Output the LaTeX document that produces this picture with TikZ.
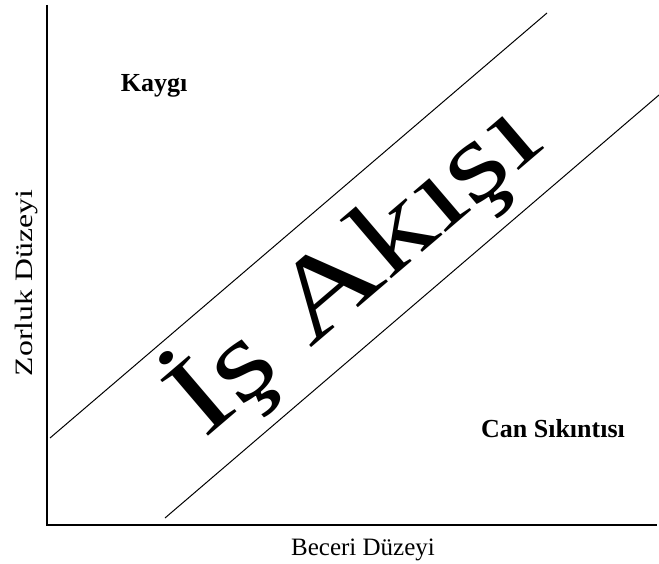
\documentclass[tikz,border=0pt]{standalone}
\usepackage{fontspec}
\setmainfont{Liberation Serif}
\begin{document}
\begin{tikzpicture}[x=1pt,y=-1pt,line width=1pt,
  every node/.style={inner sep=0pt},
  zone/.style={font=\bfseries\fontsize{26}{28}\selectfont,anchor=base},
  axislabel/.style={font=\fontsize{25}{28}\selectfont,anchor=base}]
  \path[use as bounding box] (0,0) rectangle (659,564);
  \coordinate (T) at (47,5);
  \coordinate (O) at (47,525);
  \coordinate (R) at (657,525);
  \coordinate (A1) at (50,438);
  \coordinate (A2) at (547,13);
  \coordinate (B1) at (165,518);
  \coordinate (B2) at (659,95);
  \draw[line width=2pt] (T)--(O)--(R);
  \draw (A1)--(A2) (B1)--(B2);
  \node[zone] (kaygi) at (154,92) {Kaygı};
  \node[zone] (sikinti) at (553,437) {Can Sıkıntısı};
  \node[axislabel] (beceri) at (363,555) {Beceri Düzeyi};
  \node[axislabel,rotate=90,xscale=1.27] (zorluk) at (32,283) {Zorluk Düzeyi};
  \node[font=\fontsize{112}{112}\selectfont,rotate=40.5,xscale=1.28] (akis) at (353,267) {İş Akışı};
\end{tikzpicture}
\end{document}
